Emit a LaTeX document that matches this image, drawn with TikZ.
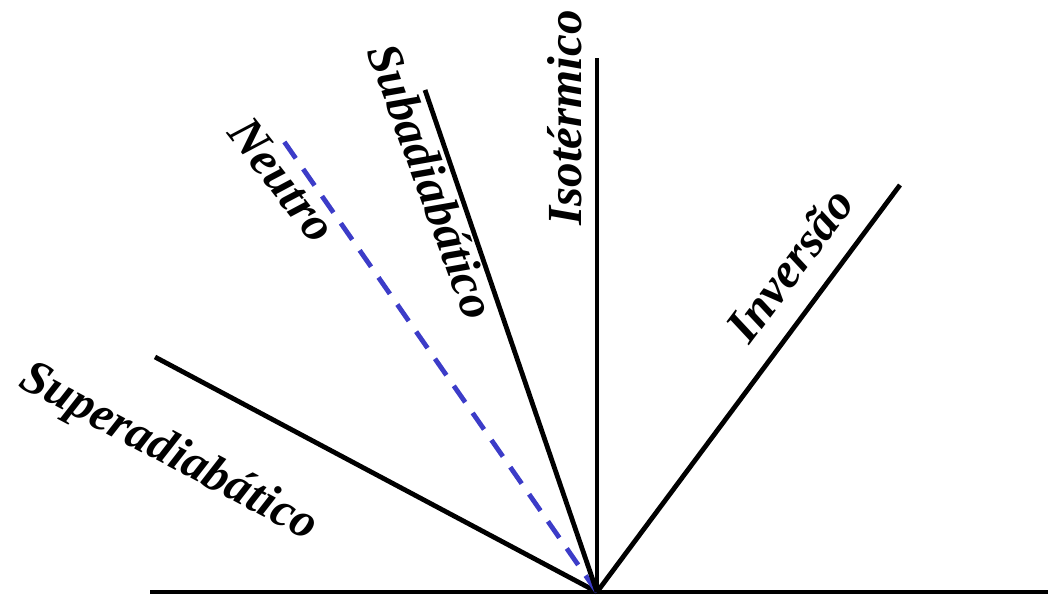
\documentclass[tikz,border=0pt]{standalone}
\usepackage{fontspec}
\setmainfont{Liberation Serif}
\begin{document}
\begin{tikzpicture}[x=1pt,y=1pt,
  ln/.style={line width=4.8pt,black},
  lbl/.style={font=\fontsize{49}{51}\selectfont\bfseries\itshape,inner sep=0pt}]
\useasboundingbox (0,0) rectangle (1048,601);
\coordinate (O) at (597,9);
\coordinate (L) at (150,9);
\coordinate (R) at (1048,9);
\coordinate (sup) at (155,244);
\coordinate (neu) at (283,461);
\coordinate (sub) at (425,511);
\coordinate (iso) at (597,543);
\coordinate (inv) at (900,416);
\draw[ln] (L) -- (R);
\draw[ln] (O) -- (sup);
\draw[line width=4.8pt,color={rgb,255:red,60;green,60;blue,200},dash pattern=on 20pt off 13pt] (O) -- (neu);
\draw[ln] (O) -- (sub);
\draw[ln] (O) -- (iso);
\draw[ln] (O) -- (inv);
\node[lbl,rotate=-28] (tsup) at (168,148) {Superadiabático};
\node[lbl,rotate=-52] (tneu) at (282,421) {Neutro};
\node[lbl,rotate=-70] (tsub) at (432,420) {Subadiabático};
\node[lbl,rotate=90] (tiso) at (565,483) {Isotérmico};
\node[lbl,rotate=53] (tinv) at (790,336) {Inversão};
\end{tikzpicture}
\end{document}
